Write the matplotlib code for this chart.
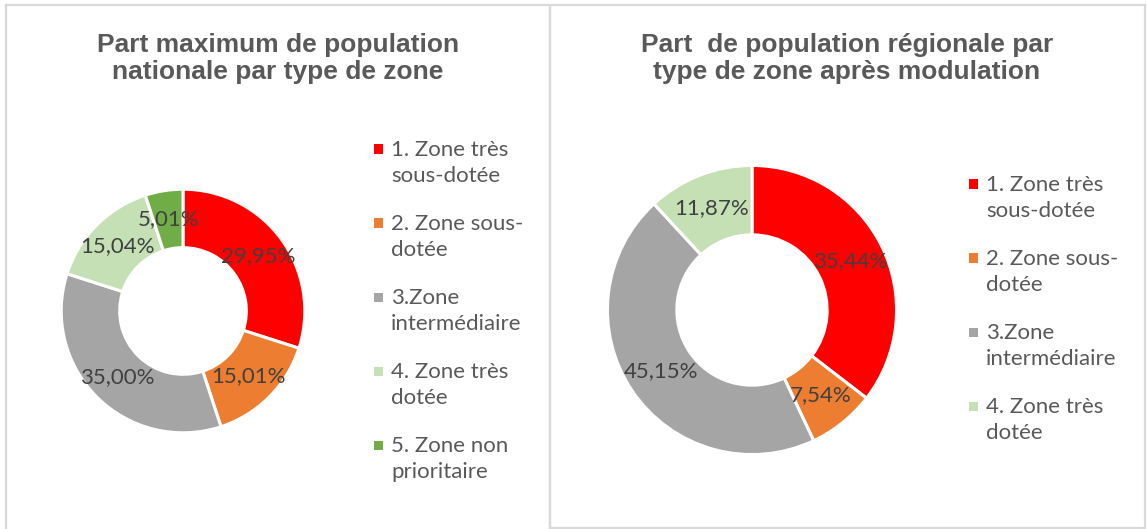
import matplotlib
matplotlib.use("Agg")
import matplotlib.pyplot as plt
from matplotlib.patches import Rectangle
import numpy as np

# ---- data ----
titles = ["Part maximum de population\nnationale par type de zone",
          "Part  de population régionale par\ntype de zone après modulation"]
labels_left = ["1. Zone très\nsous-dotée", "2. Zone sous-\ndotée", "3.Zone\nintermédiaire",
               "4. Zone très\ndotée", "5. Zone non\nprioritaire"]
values_left = [29.95, 15.01, 35.00, 15.04, 5.01]
labels_right = ["1. Zone très\nsous-dotée", "2. Zone sous-\ndotée", "3.Zone\nintermédiaire",
                "4. Zone très\ndotée"]
values_right = [35.44, 7.54, 45.15, 11.87]
colors = ["#FF0000", "#ED7D31", "#A5A5A5", "#C5E0B4", "#70AD47"]

W, H = 1147, 529
fig = plt.figure(figsize=(W / 100, H / 100), dpi=100)

def fx(x):
    return x / W

def fy(y):
    return 1 - y / H

# panel borders
for (x0, y0, x1, y1) in [(6, 5, 550, 532), (550, 5, 1145, 528)]:
    fig.patches.append(Rectangle((fx(x0), fy(y1)), fx(x1) - fx(x0), fy(y0) - fy(y1),
                                 transform=fig.transFigure, fill=False,
                                 edgecolor="#D9D9D9", linewidth=1.6))

def fmt(v):
    return ("%.2f%%" % v).replace(".", ",")

def donut(cx, cy, r, values, labels, title, title_x, legend_x, legend_y0):
    ax = fig.add_axes([fx(cx - r), fy(cy + r), (2 * r) / W, (2 * r) / H])
    ax.pie(values, colors=colors[:len(values)], startangle=90,
           counterclock=False, radius=1,
           wedgeprops=dict(width=0.48, edgecolor="white", linewidth=2.2))
    total = sum(values)
    start = 90.0
    for v in values:
        mid = np.deg2rad(start - v / total * 180.0)
        ax.text(0.76 * np.cos(mid), 0.76 * np.sin(mid), fmt(v), ha="center", va="center",
                fontsize=16, color="#404040", family="Lato")
        start -= v / total * 360.0
    ax.set_xlim(-1.01, 1.01)
    ax.set_ylim(-1.01, 1.01)
    ax.set_aspect("equal")
    ax.axis("off")
    # legend
    for i, lab in enumerate(labels):
        y = legend_y0 + i * 74
        fig.patches.append(Rectangle((fx(legend_x - 4.5), fy(y + 4.5)), 9 / W, 9 / H,
                                     transform=fig.transFigure, facecolor=colors[i],
                                     edgecolor="none"))
        fig.text(fx(legend_x + 13), fy(y + 14), lab, ha="left", va="center",
                 fontsize=16, color="#595959", family="Lato", linespacing=1.42)
    fig.text(fx(title_x), fy(58.5), title,
             ha="center", va="center", fontsize=19, fontweight="bold",
             color="#595959", family="Liberation Sans", linespacing=1.2)

donut(183, 311, 123, values_left, labels_left, titles[0], 278, 378, 149)
donut(752, 310, 146, values_right, labels_right, titles[1], 847, 973, 184)

fig.savefig("out.png", dpi=100)
